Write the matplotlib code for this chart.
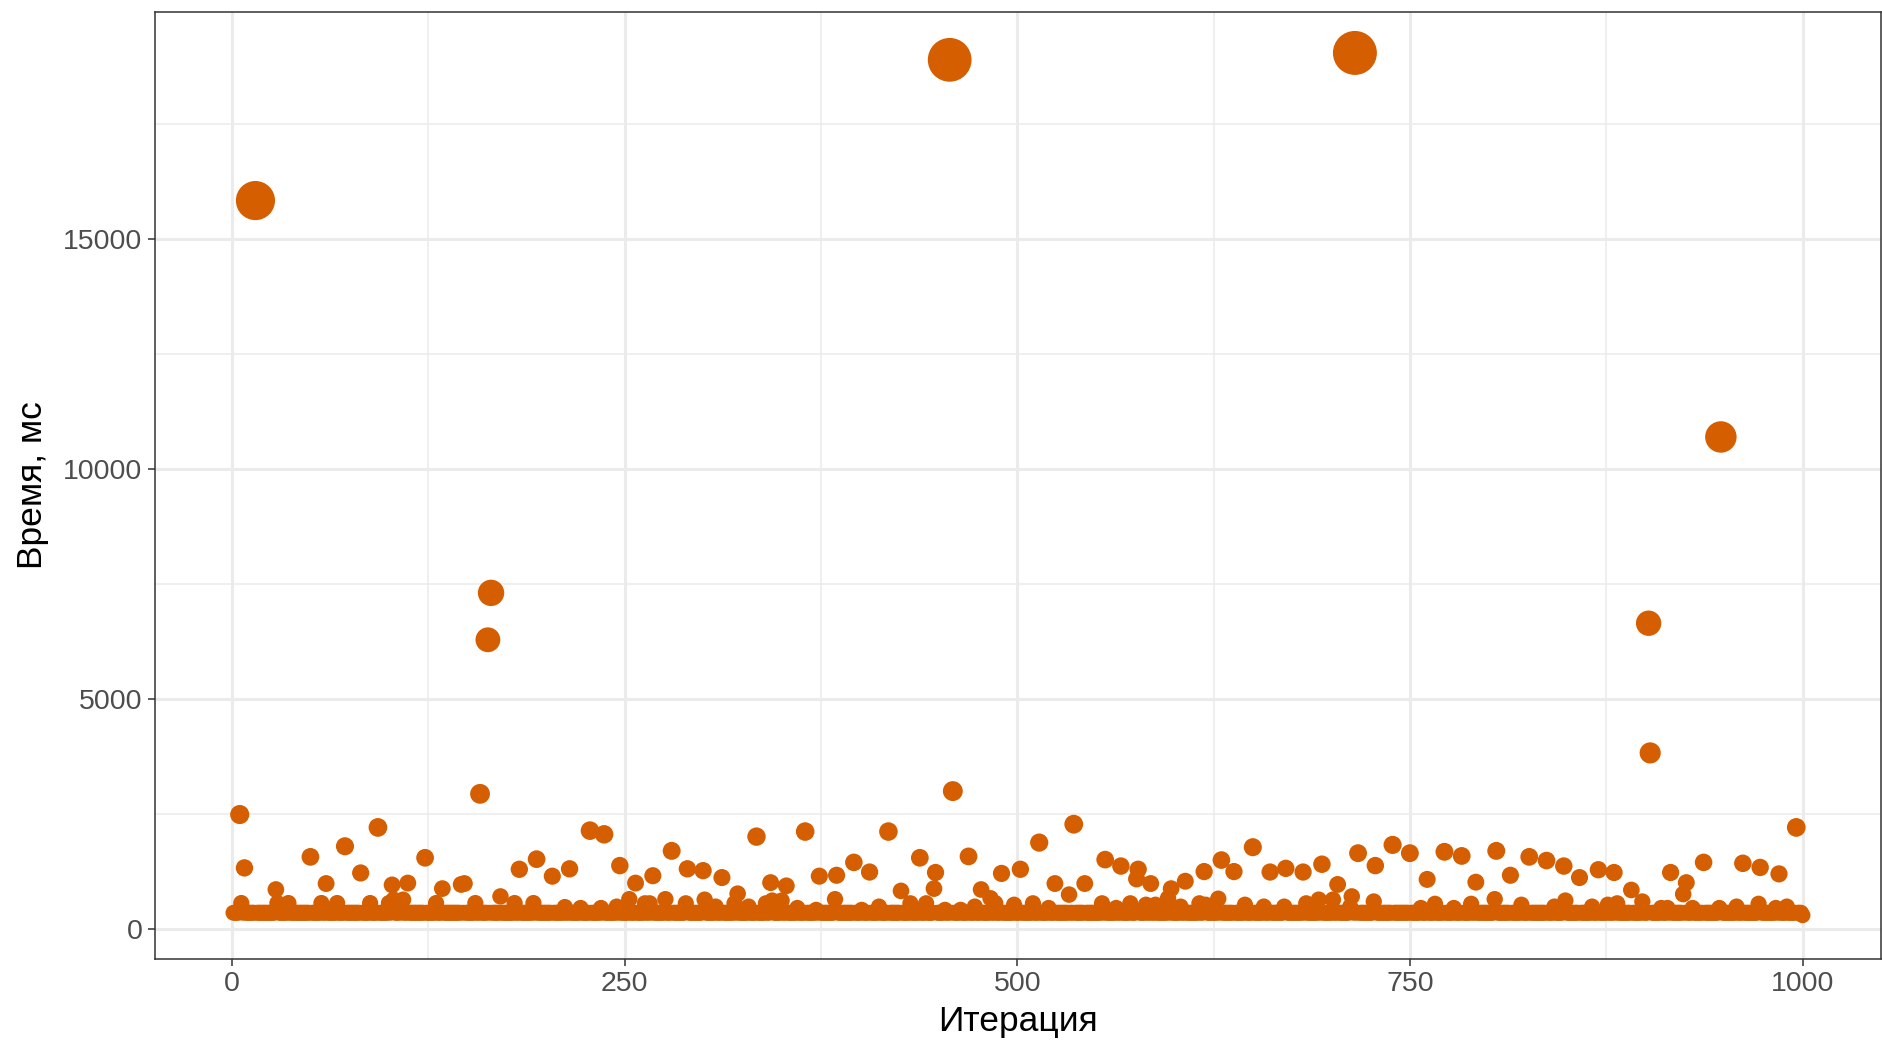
import matplotlib
matplotlib.use("Agg")
import matplotlib.pyplot as plt

plt.rcParams['font.family'] = ['Liberation Sans', 'DejaVu Sans']

# values
n_iter = 1000
base_ms = 355  # the dense band sits at about this level

spike_iter = [5, 8, 15, 28, 50, 60, 72, 82, 93, 102, 103, 109, 112, 123, 134, 146, 148,
              158, 163, 165, 171, 183, 194, 204, 215, 228, 237, 247, 253, 257, 268, 276,
              280, 290, 300, 301, 312, 322, 334, 343, 350, 353, 365, 374, 384, 385, 396,
              406, 418, 426, 438, 447, 448, 457, 459, 469, 477, 483, 490, 502, 514, 524,
              533, 536, 543, 556, 566, 576, 577, 585, 596, 598, 607, 619, 628, 630, 638,
              650, 661, 671, 682, 692, 694, 701, 704, 713, 715, 717, 728, 739, 750, 761,
              772, 783, 792, 804, 805, 814, 826, 837, 848, 849, 858, 870, 880, 891, 898,
              902, 903, 916, 924, 926, 937, 948, 962, 973, 985, 996]
spike_ms = [2490, 1330, 15840, 860, 1570, 990, 1800, 1220, 2210, 960, 640, 640, 1000, 1550,
            880, 970, 990, 2940, 6290, 7310, 710, 1300, 1520, 1150, 1310, 2140, 2060, 1380,
            650, 1000, 1160, 650, 1700, 1310, 1270, 640, 1120, 770, 2010, 1010, 620, 940,
            2120, 1150, 650, 1170, 1450, 1240, 2120, 830, 1550, 880, 1230, 18900, 3000,
            1580, 860, 670, 1210, 1300, 1880, 990, 750, 2280, 990, 1510, 1370, 1090, 1300,
            990, 670, 880, 1040, 1250, 660, 1500, 1250, 1780, 1240, 1320, 1240, 640, 1410,
            640, 970, 710, 19050, 1650, 1380, 1830, 1650, 1080, 1680, 1590, 1020, 650, 1700,
            1170, 1570, 1490, 1370, 620, 1120, 1290, 1230, 850, 600, 6650, 3830, 1230, 760,
            1010, 1450, 10700, 1430, 1340, 1200, 2210]

bump_iter = [6, 29, 36, 57, 67, 88, 100, 107, 130, 155, 180, 192, 212, 222, 235, 245, 263,
             266, 289, 308, 320, 329, 340, 344, 360, 372, 401, 412, 432, 442, 454, 464, 473,
             486, 498, 510, 520, 554, 563, 572, 582, 588, 604, 616, 620, 645, 657, 670, 684,
             712, 727, 757, 766, 778, 789, 821, 842, 866, 876, 882, 910, 914, 930, 947, 958,
             972, 983, 990]
bump_ms = [565, 565, 565, 565, 565, 565, 565, 565, 565, 565, 565, 565, 480, 460, 460, 490,
           560, 560, 560, 490, 560, 490, 560, 620, 460, 420, 420, 490, 560, 560, 420, 420,
           490, 565, 530, 560, 460, 560, 460, 560, 530, 530, 490, 560, 530, 530, 490, 490,
           560, 490, 600, 460, 550, 460, 550, 530, 490, 490, 530, 560, 460, 460, 460, 460,
           490, 550, 460, 490]

times = {i: base_ms for i in range(1, n_iter + 1)}
times[1000] = 300
for i, v in zip(bump_iter, bump_ms):
    times[i] = v
for i, v in zip(spike_iter, spike_ms):
    times[i] = v

xs = list(times.keys())
ys = [times[i] for i in xs]
# marker diameter grows linearly with the value (as in the reference)
sizes = [((15.4 + 0.00150 * v) * 0.72) ** 2 for v in ys]

fig = plt.figure(figsize=(18.83, 10.47), dpi=100)
ax = fig.add_axes([155 / 1883, (1047 - 958.5) / 1047, (1881 - 155) / 1883, (958.5 - 12) / 1047])

ax.scatter(xs, ys, s=sizes, color='#D55E00', linewidths=0, zorder=3)

ax.set_xlim(-48.95, 1049.95)
ax.set_ylim(-640, 19940)
ax.set_xticks([0, 250, 500, 750, 1000])
ax.set_yticks([0, 5000, 10000, 15000])
ax.set_xticks([125, 375, 625, 875], minor=True)
ax.set_yticks([2500, 7500, 12500, 17500], minor=True)

ax.grid(which='major', color='#EBEBEB', linewidth=2.2, zorder=0)
ax.grid(which='minor', color='#EBEBEB', linewidth=1.1, zorder=0)
ax.set_axisbelow(True)
for sp in ax.spines.values():
    sp.set_color('#333333')
    sp.set_linewidth(1.1)

ax.tick_params(which='major', length=5, width=1.1, color='#333333',
               labelsize=20.5, labelcolor='#4D4D4D', pad=4)
ax.tick_params(which='minor', length=0)

ax.set_xlabel('Итерация', fontsize=25.5, labelpad=6)
ax.set_ylabel('Время, мс', fontsize=25.5, labelpad=10)

fig.savefig('out.png', dpi=100)
